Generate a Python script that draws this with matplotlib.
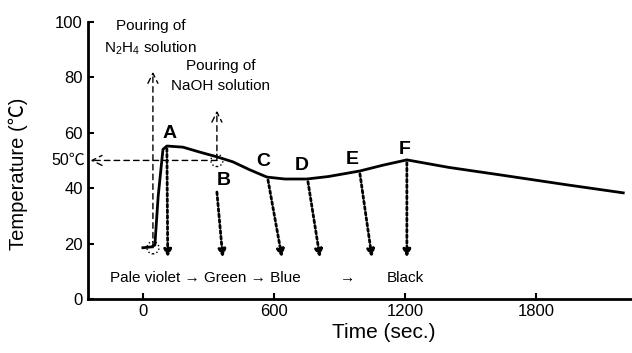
import numpy as np
import matplotlib
matplotlib.use('Agg')
import matplotlib.pyplot as plt
from matplotlib.patches import Ellipse

# temperature record
time_s = [0, 40, 55, 70, 92, 110, 183, 261, 339, 412, 490, 568, 650, 751,
          850, 994, 1100, 1209, 1400, 1635, 1942, 2200]
temp_c = [18.5, 18.8, 19.5, 37, 54, 55.2, 54.8, 53.0, 51.3, 49.5, 46.6, 44.0,
          43.3, 43.3, 44.2, 46.2, 48.3, 50.2, 47.5, 44.8, 41.2, 38.3]

event_names = ['A', 'B', 'C', 'D', 'E', 'F']
event_times = [110, 339, 573, 756, 994, 1209]
arrow_ends = [114, 366, 637, 811, 1049, 1209]

n2h4_time = 46
naoh_time = 339
set_temp = 50

xticks = [0, 600, 1200, 1800]
yticks = [0, 20, 40, 60, 80, 100]

plt.rcParams['font.family'] = ['Liberation Sans', 'Noto Sans CJK JP', 'DejaVu Sans']
plt.rcParams['mathtext.fontset'] = 'custom'
plt.rcParams['mathtext.rm'] = 'Liberation Sans'

fig = plt.figure(figsize=(6.32, 3.53), dpi=100)
ax = fig.add_axes([0.139, 0.153, 0.861, 0.785])

ax.plot(time_s, temp_c, color='black', lw=2, zorder=3)

ax.set_xlim(-252, 2240)
ax.set_ylim(0, 100)
ax.set_xticks(xticks)
ax.set_yticks(yticks)
ax.tick_params(direction='in', length=4, width=1.5, labelsize=12)
for s in ['top', 'right']:
    ax.spines[s].set_visible(False)
for s in ['left', 'bottom']:
    ax.spines[s].set_linewidth(2)

ax.set_xlabel('Time (sec.)', fontsize=15)
ax.xaxis.set_label_coords(0.544, -0.085)
ax.set_ylabel('Temperature (℃)', fontsize=14.5)
ax.yaxis.set_label_coords(-0.11, 0.45)

# dotted arrows from events to the colour line
ev_T = np.interp(event_times, time_s, temp_c)
for i, name in enumerate(event_names):
    t0 = event_times[i]
    y0 = ev_T[i] - 1
    if name == 'B':
        y0 = 38.6
    ax.annotate('', xy=(arrow_ends[i], 15), xytext=(t0, y0),
                arrowprops=dict(arrowstyle='-|>', linestyle=(0, (1, 1)), lw=2,
                                color='black', mutation_scale=11, shrinkA=0, shrinkB=0))

label_off = {'A': (14, 4.5), 'B': (32, -8.5), 'C': (-23, 5.5), 'D': (-28, 5),
             'E': (-37, 4), 'F': (-9, 3.6)}
for i, name in enumerate(event_names):
    dx, dy = label_off[name]
    ax.text(event_times[i] + dx, ev_T[i] + dy, name, fontsize=14, fontweight='bold',
            ha='center', va='center')

# pouring arrows (dashed)
dash = dict(arrowstyle='->', linestyle=(0, (4, 3)), lw=1, color='black',
            mutation_scale=18, shrinkA=0, shrinkB=0)
ax.annotate('', xy=(n2h4_time, 82), xytext=(n2h4_time, 18.5), arrowprops=dash)
ax.annotate('', xy=(naoh_time, 68), xytext=(naoh_time, set_temp), arrowprops=dash)
ax.annotate('', xy=(-240, set_temp), xytext=(naoh_time, set_temp), arrowprops=dash)

for cx, cy in [(n2h4_time, 18.5), (naoh_time, set_temp)]:
    ax.add_patch(Ellipse((cx, cy), 55, 4.4, fill=False, ls=':', lw=1, color='black', zorder=4))

ax.text(37, 94.3, 'Pouring of\nN$_2$H$_4$ solution', fontsize=11,
        ha='center', va='center', linespacing=1.5)
ax.text(357, 80.5, 'Pouring of\nNaOH solution', fontsize=11,
        ha='center', va='center', linespacing=1.5)
ax.text(-265, set_temp, '50℃', fontsize=11.5, ha='right', va='center')

ax.text(-151, 7.6, 'Pale violet → Green → Blue', fontsize=11, ha='left', va='center')
ax.text(939, 7.6, '→', fontsize=11, ha='center', va='center')
ax.text(1200, 7.6, 'Black', fontsize=11, ha='center', va='center')

fig.savefig('out.png', dpi=100)
